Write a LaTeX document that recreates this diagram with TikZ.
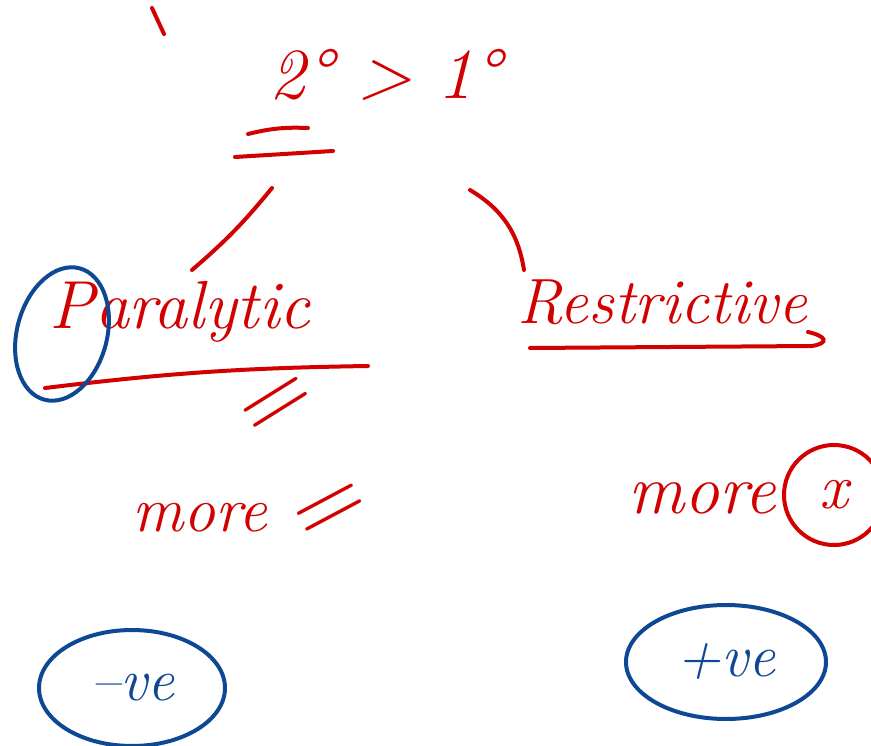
\documentclass[tikz,border=0pt]{standalone}
\usepackage{fontspec}
\usetikzlibrary{shapes.geometric}
\definecolor{inkred}{RGB}{210,0,0}
\definecolor{inkblue}{RGB}{14,72,148}
\tikzset{
  redink/.style={draw=inkred, line width=4pt, line cap=round},
  blueink/.style={draw=inkblue, line width=4pt, line cap=round},
  word/.style={text=inkred, font=\fontsize{64}{64}\selectfont\itshape, inner sep=0pt},
  blueword/.style={text=inkblue, font=\fontsize{60}{60}\selectfont\itshape, inner sep=0pt},
  eqmark/.style={text=inkred, font=\fontsize{100}{100}\selectfont, inner sep=0pt},
}

\begin{document}
\begin{tikzpicture}[x=1pt, y=-1pt]
    \useasboundingbox (0,0) rectangle (871,746);
    % stray mark
    \draw[redink] (152,8) -- (164,34);

    % title with double underline
    \node[word, font=\fontsize{72}{72}\selectfont\itshape] (title) at (385,75) {2° > 1°};
    \draw[redink] (248,134) to[bend left=8] (308,128);
    \draw[redink] (235,157) -- (333,151);

    % branches
    \coordinate (lt) at (272,188);
    \coordinate (lb) at (192,270);
    \draw[redink] (lt) to[bend left=5] (lb);
    \coordinate (rt) at (470,190);
    \coordinate (rb) at (524,270);
    \draw[redink] (rt) to[bend left=25] (rb);

    % left side
    \node[word, font=\fontsize{68}{68}\selectfont\itshape] (para) at (180,312) {Paralytic};
    \draw[redink] (45,388) to[bend left=3] (368,366);
    \draw[blueink, rotate around={-15:(62,334)}] (62,334) ellipse (45 and 68);
    \node[eqmark, rotate=32] (eqa) at (280,408) {=};
    \node[word] (morea) at (200,518) {more};
    \node[eqmark, rotate=28] (eqb) at (333,514) {=};
    \node[blueword, ellipse, draw=inkblue, line width=4pt, minimum width=186pt, minimum height=116pt] (neg) at (132,688) {–ve};

    % right side
    \node[word] (rest) at (662,302) {Restrictive};
    \draw[redink] (530,348) -- (812,346) .. controls (830,343) and (826,336) .. (808,332);
    \node[word, font=\fontsize{70}{70}\selectfont\itshape] (moreb) at (702,498) {more};
    \node[word, draw=inkred, circle, line width=4pt, minimum size=100pt] (cx) at (834,495) {x};
    \node[blueword, ellipse, draw=inkblue, line width=4pt, minimum width=200pt, minimum height=114pt] (pos) at (726,662) {+ve};
  \end{tikzpicture}
\end{document}
